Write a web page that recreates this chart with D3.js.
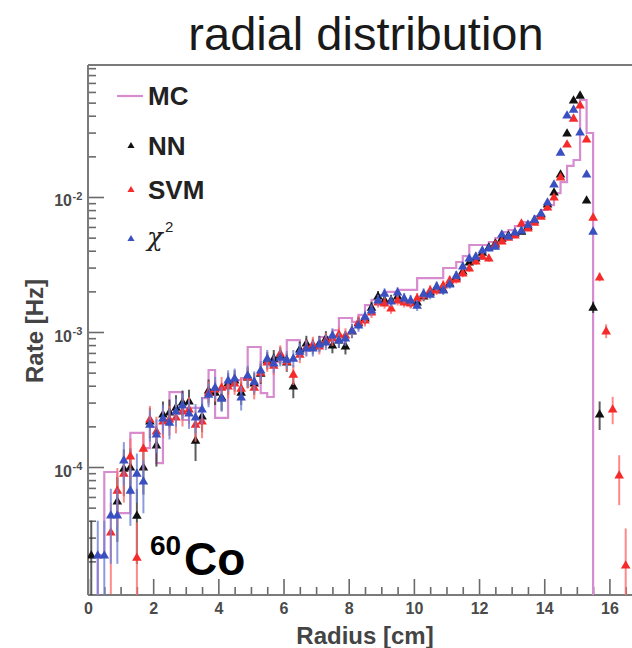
<!DOCTYPE html>
<html>
<head>
<meta charset="utf-8">
<script src="https://cdn.jsdelivr.net/npm/d3@7/dist/d3.min.js"></script>
<style>
  html, body { margin: 0; padding: 0; background: #fff; }
  svg { display: block; }
</style>
</head>
<body>
<svg id="chart" width="632" height="648"></svg>
<script>
// Bin centres of the reconstructed event radius [cm]
const radius = [
  0.1, 0.3, 0.5, 0.7, 0.9, 1.1, 1.3, 1.5, 1.7, 1.9,
  2.1, 2.3, 2.5, 2.7, 2.9, 3.1, 3.3, 3.5, 3.7, 3.9,
  4.1, 4.3, 4.5, 4.7, 4.9, 5.1, 5.3, 5.5, 5.7, 5.9,
  6.1, 6.3, 6.5, 6.7, 6.9, 7.1, 7.3, 7.5, 7.7, 7.9,
  8.1, 8.3, 8.5, 8.7, 8.9, 9.1, 9.3, 9.5, 9.7, 9.9,
  10.1, 10.3, 10.5, 10.7, 10.9, 11.1, 11.3, 11.5, 11.7, 11.9,
  12.1, 12.3, 12.5, 12.7, 12.9, 13.1, 13.3, 13.5, 13.7, 13.9,
  14.1, 14.3, 14.5, 14.7, 14.9, 15.1, 15.3, 15.5, 15.7, 15.9,
  16.1, 16.3, 16.5
];

// Rate [Hz] per radius bin, neural-network reconstruction
const rateNN = [
  2.23e-5, null, null, null, 5.6e-5, 9.8e-5, 1.0e-4, 4.4e-5, 1.0e-4, 2.19e-4,
  1.46e-4, 2.47e-4, 2.56e-4, 2.78e-4, 3.03e-4, 3.08e-4, 1.58e-4, 2.39e-4, 3.72e-4, 3.59e-4,
  3.30e-4, 4.19e-4, 4.41e-4, 3.59e-4, 4.64e-4, 4.19e-4, 4.96e-4, 6.20e-4, 6.41e-4, 6.75e-4,
  5.99e-4, 3.98e-4, 7.48e-4, 8.29e-4, 7.87e-4, 8.29e-4, 9.02e-4, 8.01e-4, 8.72e-4, 7.87e-4,
  1.02e-3, 1.17e-3, 1.27e-3, 1.53e-3, 1.85e-3, 1.73e-3, 1.73e-3, 1.85e-3, 1.73e-3, 1.67e-3,
  1.67e-3, 1.85e-3, 1.98e-3, 2.15e-3, 2.08e-3, 2.31e-3, 2.56e-3, 2.83e-3, 3.30e-3, 3.53e-3,
  3.91e-3, 4.26e-3, 4.56e-3, 4.96e-3, 5.23e-3, 5.41e-3, 5.59e-3, 6.09e-3, 6.75e-3, 7.48e-3,
  8.87e-3, 1.09e-2, 1.48e-2, 2.98e-2, 5.23e-2, 5.69e-2, 9.50e-3, 1.53e-3, 2.47e-4, null,
  null, null, null
];

// Rate [Hz] per radius bin, support-vector-machine reconstruction
const rateSVM = [
  null, null, null, 3.30e-5, 6.75e-5, 9.02e-5, 1.21e-4, 2.15e-5, 1.38e-4, 2.27e-4,
  1.85e-4, 2.19e-4, 2.27e-4, 2.35e-4, 2.60e-4, 2.69e-4, 2.08e-4, 2.19e-4, 3.59e-4, 3.78e-4,
  3.91e-4, 3.98e-4, 4.19e-4, 3.84e-4, 4.64e-4, 3.91e-4, 5.05e-4, 5.99e-4, 5.69e-4, 6.98e-4,
  6.09e-4, 4.88e-4, 6.86e-4, 7.74e-4, 8.15e-4, 7.87e-4, 8.72e-4, 9.02e-4, 9.66e-4, 9.50e-4,
  1.03e-3, 1.19e-3, 1.23e-3, 1.41e-3, 1.67e-3, 1.64e-3, 1.51e-3, 1.73e-3, 1.67e-3, 1.64e-3,
  1.79e-3, 1.88e-3, 2.05e-3, 2.05e-3, 2.23e-3, 2.43e-3, 2.47e-3, 2.74e-3, 2.98e-3, 3.36e-3,
  3.65e-3, 3.53e-3, 4.48e-3, 4.72e-3, 5.05e-3, 5.23e-3, 6.41e-3, 5.89e-3, 6.52e-3, 7.22e-3,
  8.43e-3, 1.00e-2, 1.41e-2, 2.47e-2, 3.84e-2, 4.80e-2, 2.69e-2, 7.10e-3, 2.56e-3, 1.02e-3,
  2.69e-4, 8.72e-5, 1.88e-5
];

// Rate [Hz] per radius bin, chi-square fit reconstruction
const rateChi2 = [
  null, 2.23e-5, 2.23e-5, 4.41e-5, 4.41e-5, 1.13e-4, 6.75e-5, 9.02e-5, 7.87e-5, 2.08e-4,
  1.76e-4, 2.31e-4, 2.15e-4, 2.60e-4, 2.88e-4, 2.51e-4, 2.35e-4, 2.69e-4, 3.47e-4, 3.91e-4,
  3.24e-4, 4.41e-4, 4.56e-4, 3.30e-4, 4.80e-4, 4.33e-4, 5.23e-4, 6.41e-4, 5.89e-4, 6.52e-4,
  6.30e-4, 6.41e-4, 7.22e-4, 7.61e-4, 7.61e-4, 8.15e-4, 8.43e-4, 9.50e-4, 8.72e-4, 9.02e-4,
  1.03e-3, 1.13e-3, 1.31e-3, 1.46e-3, 1.73e-3, 1.94e-3, 1.70e-3, 1.98e-3, 1.79e-3, 1.73e-3,
  1.58e-3, 1.94e-3, 1.91e-3, 2.19e-3, 2.05e-3, 2.27e-3, 2.64e-3, 3.08e-3, 3.53e-3, 3.65e-3,
  4.05e-3, 4.19e-3, 4.33e-3, 5.32e-3, 5.14e-3, 5.50e-3, 5.69e-3, 6.30e-3, 6.86e-3, 7.61e-3,
  9.18e-3, 1.25e-2, 2.15e-2, 4.05e-2, 4.48e-2, 3.03e-2, 1.48e-2, 5.59e-3, null, null,
  null, null, null
];

// Monte Carlo histogram: lower bin edges [cm] (bins are 0.2 cm wide) and rates [Hz]
const mcLowEdges = [
  0.1, 0.3, 0.5, 0.7, 0.9, 1.1, 1.3, 1.5, 1.7, 1.9,
  2.1, 2.3, 2.5, 2.7, 2.9, 3.1, 3.3, 3.5, 3.7, 3.9,
  4.1, 4.3, 4.5, 4.7, 4.9, 5.1, 5.3, 5.5, 5.7, 5.9,
  6.1, 6.3, 6.5, 6.7, 6.9, 7.1, 7.3, 7.5, 7.7, 7.9,
  8.1, 8.3, 8.5, 8.7, 8.9, 9.1, 9.3, 9.5, 9.7, 9.9,
  10.1, 10.3, 10.5, 10.7, 10.9, 11.1, 11.3, 11.5, 11.7, 11.9,
  12.1, 12.3, 12.5, 12.7, 12.9, 13.1, 13.3, 13.5, 13.7, 13.9,
  14.1, 14.3, 14.5, 14.7, 14.9, 15.1, 15.3
];
const mcBinWidth = 0.2;
const rateMC = [
  null, 2.23e-5, 9.18e-5, 9.18e-5, 4.56e-5, 4.56e-5, 1.79e-4, 1.79e-4, 1.38e-4, 1.98e-4,
  1.07e-4, 2.23e-4, 3.59e-4, 3.59e-4, 2.23e-4, 2.74e-4, 2.74e-4, 3.24e-4, 5.23e-4, 2.31e-4,
  2.31e-4, 4.05e-4, 4.41e-4, 4.56e-4, 7.74e-4, 7.74e-4, 3.53e-4, 3.30e-4, 5.99e-4, 6.41e-4,
  8.72e-4, 8.72e-4, 7.35e-4, 7.74e-4, 7.74e-4, 9.18e-4, 9.18e-4, 1.03e-3, 1.27e-3, 1.27e-3,
  1.19e-3, 1.34e-3, 1.58e-3, 1.73e-3, 1.88e-3, 1.98e-3, 1.98e-3, 2.05e-3, 2.05e-3, 2.05e-3,
  2.51e-3, 2.51e-3, 2.51e-3, 2.51e-3, 2.98e-3, 2.98e-3, 3.30e-3, 3.65e-3, 4.41e-3, 4.41e-3,
  4.41e-3, 4.64e-3, 4.96e-3, 5.50e-3, 5.69e-3, 6.09e-3, 6.52e-3, 6.52e-3, 7.22e-3, 8.01e-3,
  8.72e-3, 1.07e-2, 1.29e-2, 1.70e-2, 1.88e-2, 5.23e-2, 2.98e-2
];

const xTickValues = [0, 2, 4, 6, 8, 10, 12, 14, 16];
const xTickLabels = ["0", "2", "4", "6", "8", "10", "12", "14", "16"];
const yTickValues = [1e-4, 1e-3, 1e-2];
const yTickExponents = ["-4", "-3", "-2"];

// counting time used for the Poisson error bars [s]
const liveTime = 71000;

const series = [
  { name: "NN",  values: rateNN,   color: "#111111", bar: "#333333" },
  { name: "SVM", values: rateSVM,  color: "#f52a2a", bar: "#ff6b6b" },
  { name: "χ",   values: rateChi2, color: "#3a4fc0", bar: "#7281d6" }
];
const mcColor = "#d68ccf";

const svg = d3.select("#chart");
const plot = { left: 88, right: 642, top: 65, bottom: 595 };

const x = d3.scaleLinear().domain([0, 17]).range([plot.left, plot.right]);
const y = d3.scaleLog().domain([1.127e-5, 0.095]).range([plot.bottom, plot.top]);
const yFloor = y.domain()[0];

svg.append("defs").append("clipPath").attr("id", "plot-clip")
  .append("rect")
  .attr("x", plot.left).attr("y", plot.top)
  .attr("width", plot.right - plot.left).attr("height", plot.bottom - plot.top);

// Title
svg.append("text")
  .attr("x", 366).attr("y", 50)
  .attr("text-anchor", "middle")
  .style("font-family", "'Liberation Sans', Arial, sans-serif")
  .style("font-size", "47px")
  .style("fill", "#1a1a1a")
  .text("radial distribution");

// Axes (ticks point into the frame)
const tickStyle = g => {
  g.select(".domain").remove();
  g.selectAll(".tick line").attr("stroke", "#6a6a6a").attr("stroke-width", 1.6);
};

const xMinor = d3.range(0, 17.01, 0.5).filter(v => v % 2 !== 0);
svg.append("g").attr("transform", `translate(0,${plot.bottom})`)
  .call(d3.axisBottom(x).tickValues(xMinor).tickSize(-8).tickFormat(""))
  .call(tickStyle);

svg.append("g").attr("transform", `translate(0,${plot.bottom})`)
  .call(d3.axisBottom(x).tickValues(xTickValues).tickSize(-16).tickPadding(8)
    .tickFormat((d, i) => xTickLabels[i]))
  .call(tickStyle)
  .call(g => g.selectAll(".tick text")
    .style("font-family", "'Liberation Sans', Arial, sans-serif")
    .style("font-size", "16px").style("font-weight", "bold")
    .style("fill", "#4a4a4a"));

const yMinor = [];
[1e-5, 1e-4, 1e-3, 1e-2].forEach(dec => {
  for (let m = 2; m <= 9; m++) {
    const v = dec * m;
    if (v >= y.domain()[0] && v <= y.domain()[1]) yMinor.push(v);
  }
});
svg.append("g").attr("transform", `translate(${plot.left},0)`)
  .call(d3.axisLeft(y).tickValues(yMinor).tickSize(-8).tickFormat(""))
  .call(tickStyle);

svg.append("g").attr("transform", `translate(${plot.left},0)`)
  .call(d3.axisLeft(y).tickValues(yTickValues).tickSize(-16).tickFormat(""))
  .call(tickStyle);

// Y tick labels written as 10^n
const yLab = svg.append("g")
  .style("font-family", "'Liberation Sans', Arial, sans-serif")
  .style("font-weight", "bold").style("fill", "#4a4a4a");
yTickValues.forEach((v, i) => {
  const ty = y(v);
  yLab.append("text").attr("x", 72).attr("y", ty + 9.5)
    .attr("text-anchor", "end").style("font-size", "16px").text("10");
  yLab.append("text").attr("x", 72.5).attr("y", ty + 3)
    .style("font-size", "11px").text(yTickExponents[i]);
});

// Frame lines
const frame = svg.append("g").attr("stroke", "#7a7a7a").attr("stroke-width", 2).attr("fill", "none");
frame.append("line").attr("x1", plot.left).attr("x2", plot.right).attr("y1", plot.top).attr("y2", plot.top);
frame.append("line").attr("x1", plot.left).attr("x2", plot.right).attr("y1", plot.bottom).attr("y2", plot.bottom);
frame.append("line").attr("x1", plot.left).attr("x2", plot.left).attr("y1", plot.top).attr("y2", plot.bottom);

// Axis titles
svg.append("text")
  .attr("x", 365).attr("y", 644)
  .attr("text-anchor", "middle")
  .style("font-family", "'Liberation Sans', Arial, sans-serif")
  .style("font-size", "24px").style("font-weight", "bold").style("fill", "#444")
  .text("Radius [cm]");

svg.append("text")
  .attr("transform", "translate(43,331) rotate(-90)")
  .attr("text-anchor", "middle")
  .style("font-family", "'Liberation Sans', Arial, sans-serif")
  .style("font-size", "24px").style("font-weight", "bold").style("fill", "#444")
  .text("Rate [Hz]");

const data = svg.append("g").attr("clip-path", "url(#plot-clip)");

// MC step histogram
const mcPoints = [];
let started = false;
mcLowEdges.forEach((lo, i) => {
  const v = rateMC[i];
  if (v == null) return;
  if (!started) { mcPoints.push([lo, yFloor]); started = true; }
  mcPoints.push([lo, v]);
  mcPoints.push([lo + mcBinWidth, v]);
});
mcPoints.push([mcPoints[mcPoints.length - 1][0], yFloor]);

data.append("path")
  .datum(mcPoints)
  .attr("fill", "none")
  .attr("stroke", mcColor)
  .attr("stroke-width", 2.2)
  .attr("d", d3.line().x(d => x(d[0])).y(d => y(Math.max(d[1], yFloor * 0.5))));

// Data points with Poisson error bars
const tri = d3.symbol().type(d3.symbolTriangle).size(40);
series.forEach(s => {
  const pts = radius.map((r, i) => ({ r, v: s.values[i] })).filter(d => d.v != null);
  const g = data.append("g");
  g.selectAll("line.err").data(pts).join("line")
    .attr("class", "err")
    .attr("x1", d => x(d.r)).attr("x2", d => x(d.r))
    .attr("y1", d => {
      const lo = d.v - Math.sqrt(d.v / liveTime);
      return lo > 0 ? y(lo) : plot.bottom + 5;
    })
    .attr("y2", d => y(d.v + Math.sqrt(d.v / liveTime)))
    .attr("stroke", s.bar).attr("stroke-width", 2).attr("stroke-opacity", 0.8);
  g.selectAll("path.pt").data(pts).join("path")
    .attr("class", "pt")
    .attr("transform", d => `translate(${x(d.r)},${y(d.v) + 0.8})`)
    .attr("d", tri)
    .attr("fill", s.color);
});

// Legend
const leg = svg.append("g")
  .style("font-family", "'Liberation Sans', Arial, sans-serif")
  .style("font-weight", "bold").style("fill", "#222");
leg.append("line").attr("x1", 117).attr("x2", 143).attr("y1", 96).attr("y2", 96)
  .attr("stroke", mcColor).attr("stroke-width", 2.2);
leg.append("text").attr("x", 148).attr("y", 105).style("font-size", "26px").text("MC");

const legTri = d3.symbol().type(d3.symbolTriangle).size(22);
const legRows = [
  { s: series[0], y: 146, label: "NN" },
  { s: series[1], y: 190, label: "SVM" },
  { s: series[2], y: 239, label: null }
];
legRows.forEach(row => {
  leg.append("path").attr("transform", `translate(131,${row.y})`).attr("d", legTri)
    .attr("fill", row.s.color);
  if (row.label) {
    leg.append("text").attr("x", 148).attr("y", row.y + 9).style("font-size", "26px").text(row.label);
  }
});
leg.append("text").attr("x", 147).attr("y", 246)
  .style("font-family", "'DejaVu Serif', 'Liberation Serif', serif")
  .style("font-weight", "normal").style("font-style", "italic")
  .style("font-size", "26px").text("χ");
leg.append("text").attr("x", 165).attr("y", 232)
  .style("font-family", "'Liberation Sans', Arial, sans-serif")
  .style("font-weight", "normal").style("font-size", "15px").text("2");

// Isotope tag
const tag = svg.append("g")
  .style("font-family", "'Liberation Sans', Arial, sans-serif")
  .style("font-weight", "bold").style("fill", "#000");
tag.append("text").attr("x", 150).attr("y", 555).style("font-size", "28px").text("60");
tag.append("text").attr("x", 184).attr("y", 575).style("font-size", "46px").text("Co");
</script>
</body>
</html>
